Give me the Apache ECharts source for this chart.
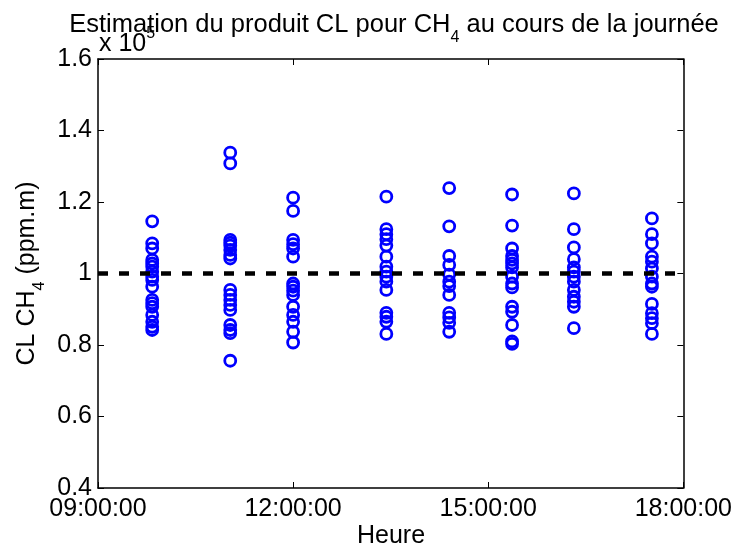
<!DOCTYPE html>
<html>
<head>
<meta charset="utf-8">
<script src="https://cdn.jsdelivr.net/npm/echarts@6/dist/echarts.min.js"></script>
<style>
html,body{margin:0;padding:0;background:#fff;}
#chart{width:735px;height:550px;}
</style>
</head>
<body>
<div id="chart"></div>
<script>
// Measurement times (HH:MM)
const times = ['09:50', '11:02', '12:00', '13:26', '14:24', '15:22', '16:19', '17:31'];

// CL product for CH4 (ppm.m) at each time
const cl0950 = [114600, 108400, 107000, 103800, 102800, 101900, 100500, 99100, 98200, 96300, 92600, 91700, 90700, 88400, 86500, 85100, 84200];
const cl1102 = [133800, 130800, 109400, 108600, 107800, 106600, 105200, 104200, 95400, 94000, 92600, 91200, 89800, 85600, 84200, 83300, 75600];
const cl1200 = [121200, 117500, 109400, 108200, 107000, 104700, 97200, 96300, 95200, 94000, 90700, 88400, 86500, 83700, 80700];
const cl1326 = [121500, 112400, 111000, 109600, 107800, 104700, 101900, 100500, 99100, 97700, 95400, 89000, 87900, 86500, 83100];
const cl1424 = [123900, 113200, 104900, 102400, 99700, 97700, 96500, 94000, 89000, 87700, 86200, 83700];
const cl1522 = [122100, 113400, 107000, 104900, 103800, 102800, 101700, 99100, 97200, 96100, 90700, 89300, 85600, 81000, 80300];
const cl1619 = [122400, 112400, 107300, 104000, 101700, 100500, 99100, 97700, 95400, 93500, 92100, 90700, 84700];
const cl1731 = [115400, 111000, 108400, 104700, 103300, 101400, 99100, 97200, 96300, 91500, 88900, 87500, 86100, 83100];
const columns = [cl0950, cl1102, cl1200, cl1326, cl1424, cl1522, cl1619, cl1731];

// Reference level and axis ticks
const refLevel = 100000;
const refSpan = ['09:00', '18:00'];
const xTicks = ['09:00:00', '12:00:00', '15:00:00', '18:00:00'];
const yTicks = [0.4, 0.6, 0.8, 1, 1.2, 1.4, 1.6];
const yScale = 1e5;

function toHours(s) {
  const p = s.split(':').map(Number);
  return p[0] + (p[1] || 0) / 60 + (p[2] || 0) / 3600;
}
function pad(n) { return (n < 10 ? '0' : '') + n; }

const points = [];
columns.forEach((col, i) => {
  const h = toHours(times[i]);
  col.forEach(v => points.push([h, v]));
});

const xMin = toHours(xTicks[0]);
const xMax = toHours(xTicks[xTicks.length - 1]);
const xInt = toHours(xTicks[1]) - xMin;
const yMin = yTicks[0] * yScale;
const yMax = yTicks[yTicks.length - 1] * yScale;
const yInt = (yTicks[1] - yTicks[0]) * yScale;

const FONT = "'Liberation Sans', Arial, Helvetica, sans-serif";
const FS = 25;
const axisLine = { show: true, lineStyle: { color: '#000', width: 1.5 } };
const tick = { show: true, inside: true, length: 6, lineStyle: { color: '#000', width: 1 } };

const chart = echarts.init(document.getElementById('chart'), null, { renderer: 'canvas' });
chart.setOption({
  animation: false,
  backgroundColor: '#fff',
  grid: { left: 98, right: 51, top: 59, bottom: 62, containLabel: false },
  xAxis: [
    {
      type: 'value', min: xMin, max: xMax, interval: xInt, position: 'bottom',
      axisLine: axisLine, axisTick: tick, splitLine: { show: false },
      axisLabel: {
        margin: 9, color: '#000', fontSize: FS, fontFamily: FONT,
        formatter: v => pad(Math.round(v)) + ':00:00'
      }
    },
    {
      type: 'value', min: xMin, max: xMax, interval: xInt, position: 'top',
      axisLine: axisLine, axisTick: tick, splitLine: { show: false }, axisLabel: { show: false }
    }
  ],
  yAxis: [
    {
      type: 'value', min: yMin, max: yMax, interval: yInt, position: 'left',
      axisLine: axisLine, axisTick: tick, splitLine: { show: false },
      axisLabel: {
        margin: 6, color: '#000', fontSize: FS, fontFamily: FONT, padding: [4, 0, 0, 0],
        formatter: v => String(Math.round(v / yScale * 10) / 10)
      }
    },
    {
      type: 'value', min: yMin, max: yMax, interval: yInt, position: 'right',
      axisLine: axisLine, axisTick: tick, splitLine: { show: false }, axisLabel: { show: false }
    }
  ],
  series: [
    {
      type: 'scatter',
      xAxisIndex: 0, yAxisIndex: 0,
      data: points,
      symbol: 'circle',
      symbolSize: 11,
      itemStyle: { color: 'rgba(0,0,0,0)', borderColor: '#0000ff', borderWidth: 2.8, opacity: 1 },
      z: 2
    },
    {
      type: 'line',
      xAxisIndex: 0, yAxisIndex: 0,
      data: refSpan.map(t => [toHours(t), refLevel]),
      symbol: 'none',
      lineStyle: { color: '#000', width: 4.5, type: [10, 11] },
      z: 5
    }
  ],
  graphic: [
    {
      type: 'text', x: 394, y: 25, z: 10,
      style: {
        text: '{m|Estimation du produit CL pour CH}{s|4}{m| au cours de la journée}',
        align: 'center', verticalAlign: 'middle', fill: '#000',
        rich: {
          m: { fontSize: 25.5, fontFamily: FONT, color: '#000' },
          s: { fontSize: 16, fontFamily: FONT, color: '#000', padding: [26, 0, 0, 0] }
        }
      }
    },
    {
      type: 'text', x: 99, y: 44, z: 10,
      style: {
        text: '{m|x 10}{s|5}',
        align: 'left', verticalAlign: 'middle', fill: '#000',
        rich: {
          m: { fontSize: FS, fontFamily: FONT, color: '#000' },
          s: { fontSize: 16, fontFamily: FONT, color: '#000', padding: [0, 0, 20, 0] }
        }
      }
    },
    {
      type: 'text', x: 27, y: 273.5, rotation: Math.PI / 2, z: 10,
      style: {
        text: '{m|CL CH}{s|4}{m| (ppm.m)}',
        align: 'center', verticalAlign: 'middle', fill: '#000',
        rich: {
          m: { fontSize: FS, fontFamily: FONT, color: '#000' },
          s: { fontSize: 16, fontFamily: FONT, color: '#000', padding: [26, 0, 0, 0] }
        }
      }
    },
    {
      type: 'text', x: 391, y: 536, z: 10,
      style: {
        text: 'Heure', align: 'center', verticalAlign: 'middle',
        fontSize: FS, fontFamily: FONT, fill: '#000'
      }
    }
  ]
});
</script>
</body>
</html>
